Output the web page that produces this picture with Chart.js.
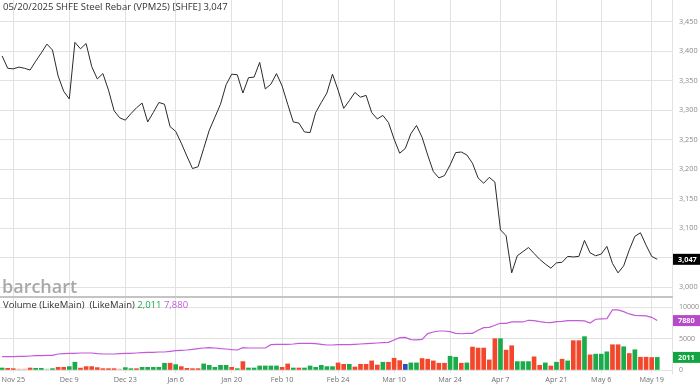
<!DOCTYPE html>
<html><head><meta charset="utf-8">
<script src="https://cdn.jsdelivr.net/npm/chart.js@4.4.1/dist/chart.umd.min.js"></script>
<style>
html,body{margin:0;padding:0;background:#fff;width:700px;height:389px;overflow:hidden}
#top{position:absolute;left:0;top:0;width:700px;height:298px}
#bot{position:absolute;left:0;top:298px;width:700px;height:91px}
#sep{position:absolute;left:0;top:296px;width:673px;height:2px;background:#c4c4c4}
</style></head><body>
<div id="top"><canvas id="c1"></canvas></div>
<div id="bot"><canvas id="c2"></canvas></div>
<div id="sep"></div>
<script>
// ---------- data ----------
const titleText = '05/20/2025 SHFE Steel Rebar (VPM25) [SHFE] 3,047';
const dates = [
'2024-11-21','2024-11-22','2024-11-25','2024-11-26','2024-11-27','2024-11-28','2024-11-29',
'2024-12-02','2024-12-03','2024-12-04','2024-12-05','2024-12-06','2024-12-09','2024-12-10','2024-12-11','2024-12-12','2024-12-13',
'2024-12-16','2024-12-17','2024-12-18','2024-12-19','2024-12-20','2024-12-23','2024-12-24','2024-12-25','2024-12-26','2024-12-27','2024-12-30','2024-12-31',
'2025-01-02','2025-01-03','2025-01-06','2025-01-07','2025-01-08','2025-01-09','2025-01-10','2025-01-13','2025-01-14','2025-01-15','2025-01-16','2025-01-17',
'2025-01-20','2025-01-21','2025-01-22','2025-01-23','2025-01-24','2025-01-27',
'2025-02-05','2025-02-06','2025-02-07','2025-02-10','2025-02-11','2025-02-12','2025-02-13','2025-02-14','2025-02-17','2025-02-18','2025-02-19','2025-02-20','2025-02-21',
'2025-02-24','2025-02-25','2025-02-26','2025-02-27','2025-02-28',
'2025-03-03','2025-03-04','2025-03-05','2025-03-06','2025-03-07','2025-03-10','2025-03-11','2025-03-12','2025-03-13','2025-03-14',
'2025-03-17','2025-03-18','2025-03-19','2025-03-20','2025-03-21','2025-03-24','2025-03-25','2025-03-26','2025-03-27','2025-03-28','2025-03-31',
'2025-04-01','2025-04-02','2025-04-03','2025-04-07','2025-04-08','2025-04-09','2025-04-10','2025-04-11','2025-04-14','2025-04-15','2025-04-16','2025-04-17','2025-04-18',
'2025-04-21','2025-04-22','2025-04-23','2025-04-24','2025-04-25','2025-04-28','2025-04-29','2025-04-30',
'2025-05-06','2025-05-07','2025-05-08','2025-05-09','2025-05-12','2025-05-13','2025-05-14','2025-05-15','2025-05-16','2025-05-19','2025-05-20'];
const tickDates = ['2024-11-25','2024-12-09','2024-12-23','2025-01-06','2025-01-20','2025-02-10','2025-02-24','2025-03-10','2025-03-24','2025-04-07','2025-04-21','2025-05-06','2025-05-19'];
const tickLabels = ['Nov 25','Dec 9','Dec 23','Jan 6','Jan 20','Feb 10','Feb 24','Mar 10','Mar 24','Apr 7','Apr 21','May 6','May 19'];
const priceTicks = [3000,3050,3100,3150,3200,3250,3300,3350,3400,3450];
const volumeTicks = [0,5000,10000];
const closePrice = [
3392,3371,3370,3373,3371,3368,3383,3397,3412,3402,3358,3332,3319,3415,3404,3413,3374,3353,3362,3334,
3299,3287,3283,3294,3304,3312,3280,3296,3313,3310,3272,3264,3244,3222,3201,3204,3235,3266,3288,3310,
3343,3361,3360,3329,3355,3356,3381,3336,3344,3362,3341,3310,3280,3278,3263,3262,3296,3313,3329,3361,
3334,3303,3316,3330,3322,3325,3296,3285,3291,3279,3251,3227,3235,3260,3274,3254,3224,3196,3185,3189,
3207,3228,3229,3224,3210,3185,3176,3186,3178,3097,3087,3024,3053,3060,3067,3057,3047,3039,3032,3041,
3042,3052,3051,3052,3079,3058,3053,3056,3069,3040,3024,3036,3063,3086,3092,3071,3052,3047];
const volume = [
320,270,215,160,160,320,270,270,160,215,430,430,540,1240,300,540,540,380,215,215,
215,160,380,215,215,430,430,430,430,1080,1080,860,540,270,215,215,970,750,430,750,
750,430,215,1340,320,320,645,645,645,645,430,970,320,320,320,645,430,750,540,540,
1130,910,910,480,910,910,1450,800,1240,1240,1880,1500,910,1130,1130,1830,1720,1450,1080,1080,
2200,2040,1080,1130,3660,3500,3500,1610,5000,5000,3170,3870,1340,1340,1340,2100,750,1130,645,1240,
1720,1450,4680,4680,5320,2420,2530,2530,2900,4030,4030,3710,2630,3230,2040,2040,1990,2011];
// g = up, r = down, G/R = faint up/down, b = unchanged
const barSide = [
'g','r','r','R','R','r','g','g','G','g','r','r','g','g','r','r','r','r','r','r',
'r','R','g','g','r','g','g','g','g','g','r','g','r','r','r','r','g','g','g','g',
'g','r','g','r','g','g','g','g','g','g','r','r','g','r','g','g','g','g','g','g',
'r','r','g','r','r','r','r','r','g','r','r','r','b','g','g','r','r','r','r','r',
'g','g','r','g','r','r','r','r','r','g','r','r','g','g','g','r','r','g','r','g',
'r','g','r','r','g','r','g','g','g','r','r','g','r','g','r','r','r','g'];
const openInterest = [
2130,2130,2130,2180,2180,2230,2290,2290,2340,2340,2550,2610,2660,2660,2710,2710,2710,2610,2550,2550,
2550,2610,2660,2660,2710,2770,2820,2820,2870,2870,2980,3090,3140,3190,3300,3400,3510,3560,3510,3400,
3350,3250,3190,3560,3510,3510,3510,3510,4040,4100,4100,4100,4150,4260,4260,4260,4200,4100,3990,3990,
4040,4040,4040,4100,4150,4200,4260,4310,4360,4420,4790,5160,5210,4840,4790,4890,5800,6060,6220,6220,
6120,5850,5780,5850,5850,6330,6760,6810,7130,7450,7450,7660,7660,7660,7930,7870,7710,7610,7550,7710,
7770,7870,7870,7870,7820,7500,8090,8140,8190,9580,9580,9310,8940,8720,8670,8620,8400,7880];
const lastVolume = 2011, lastOI = 7880, lastPrice = 3047;

// ---------- styling ----------
const FONT = '"Open Sans", sans-serif';
const GRID = '#e2e2e2';
const sideColor = {g:'#1aab4b', r:'#f2472b', G:'#a6dfb6', R:'#f7b1a4', b:'#2b4fb8'};
const tickIdx = tickDates.map(d => dates.indexOf(d));
const xMin = -0.375, xMax = 119.63;

function xScale(showLabels){
  return {
    type:'linear', min:xMin, max:xMax, bounds:'data', offset:false,
    grid:{color:GRID, lineWidth:1, drawTicks:false, offset:false},
    border:{display:false},
    ticks:{display:showLabels, autoSkip:false, maxRotation:0, padding:3, color:'#707070',
      font:{family:FONT, size:7.3},
      callback:(v)=>{const k = tickIdx.indexOf(v); return k>=0 ? tickLabels[k] : '';}},
    afterBuildTicks:(s)=>{ s.ticks = tickIdx.map(v=>({value:v})); },
    afterFit:(s)=>{ s.height = showLabels ? 16 : 0; s.paddingLeft = 0; s.paddingRight = 0; }
  };
}
function yScale(min, max, ticks, fmt, size){
  return {
    type:'linear', position:'right', min:min, max:max, bounds:'data',
    grid:{color:GRID, lineWidth:1, drawTicks:false},
    border:{display:true, color:GRID},
    ticks:{padding:7, color:'#8a8a8a', font:{family:FONT, size:size}, callback:fmt},
    afterBuildTicks:(s)=>{ s.ticks = ticks.map(v=>({value:v})); },
    afterFit:(s)=>{ s.width = 28; s.paddingTop = 0; s.paddingBottom = 0; }
  };
}
function tagBox(ctx, area, y, text, bg){
  ctx.save();
  ctx.fillStyle = bg;
  ctx.fillRect(area.right + 1, y - 5.5, 700 - area.right - 1, 11);
  ctx.fillStyle = '#fff';
  ctx.font = 'bold 7.3px ' + FONT;
  ctx.textBaseline = 'middle';
  ctx.textAlign = 'left';
  ctx.fillText(text, area.right + 6, y + 0.5);
  ctx.restore();
}

const priceOverlay = {
  id:'priceOverlay',
  afterDraw(chart){
    const ctx = chart.ctx, a = chart.chartArea;
    ctx.save();
    ctx.font = '9.5px ' + FONT;
    ctx.fillStyle = '#333';
    ctx.textBaseline = 'middle';
    ctx.fillText(titleText, 3, 7);
    ctx.font = '600 18px ' + FONT;
    ctx.fillStyle = '#a8a8a8';
    ctx.textBaseline = 'alphabetic';
    ctx.fillText('barchart', 2, 293);
    ctx.restore();
    tagBox(ctx, a, chart.scales.y.getPixelForValue(lastPrice), lastPrice.toLocaleString('en-US'), '#000');
  }
};
const volOverlay = {
  id:'volOverlay',
  afterDraw(chart){
    const ctx = chart.ctx, a = chart.chartArea;
    ctx.save();
    ctx.font = '9.5px ' + FONT;
    ctx.textBaseline = 'middle';
    let x = 3;
    const parts = [['Volume (LikeMain)  (LikeMain) ', '#333'], [lastVolume.toLocaleString('en-US') + ' ', '#1aab4b'], [lastOI.toLocaleString('en-US'), '#c35bd9']];
    for (const [t, c] of parts){ ctx.fillStyle = c; ctx.fillText(t, x, 7); x += ctx.measureText(t).width; }
    ctx.restore();
    tagBox(ctx, a, chart.scales.y.getPixelForValue(lastOI), String(lastOI), '#b64bc9');
    tagBox(ctx, a, chart.scales.y.getPixelForValue(lastVolume), String(lastVolume), '#13a541');
  }
};

new Chart(document.getElementById('c1'), {
  type:'line',
  data:{datasets:[{
    data: closePrice.map((v,i)=>({x:i, y:v})),
    borderColor:'#2a2a2a', borderWidth:1, pointRadius:0, tension:0, fill:false
  }]},
  options:{
    responsive:true, maintainAspectRatio:false, animation:false,
    layout:{padding:0, autoPadding:false},
    plugins:{legend:{display:false}, tooltip:{enabled:false}},
    scales:{ x:xScale(false), y:yScale(2981.4, 3486.8, priceTicks, v=>v.toLocaleString('en-US'), 7.3) }
  },
  plugins:[priceOverlay]
});

new Chart(document.getElementById('c2'), {
  type:'line',
  data:{datasets:[
    { type:'line', data: openInterest.map((v,i)=>({x:i, y:v})),
      borderColor:'#c35bd9', borderWidth:1.2, pointRadius:0, tension:0, fill:false, order:0 },
    { type:'bar', data: volume.map((v,i)=>({x:i, y:v})),
      backgroundColor: barSide.map(s=>sideColor[s]), barThickness:4, borderWidth:0, order:1 }
  ]},
  options:{
    responsive:true, maintainAspectRatio:false, animation:false,
    layout:{padding:0, autoPadding:false},
    plugins:{legend:{display:false}, tooltip:{enabled:false}},
    scales:{ x:xScale(true), y:yScale(-478, 11483, volumeTicks, v=>String(v), 7) }
  },
  plugins:[volOverlay]
});
</script>
</body></html>
